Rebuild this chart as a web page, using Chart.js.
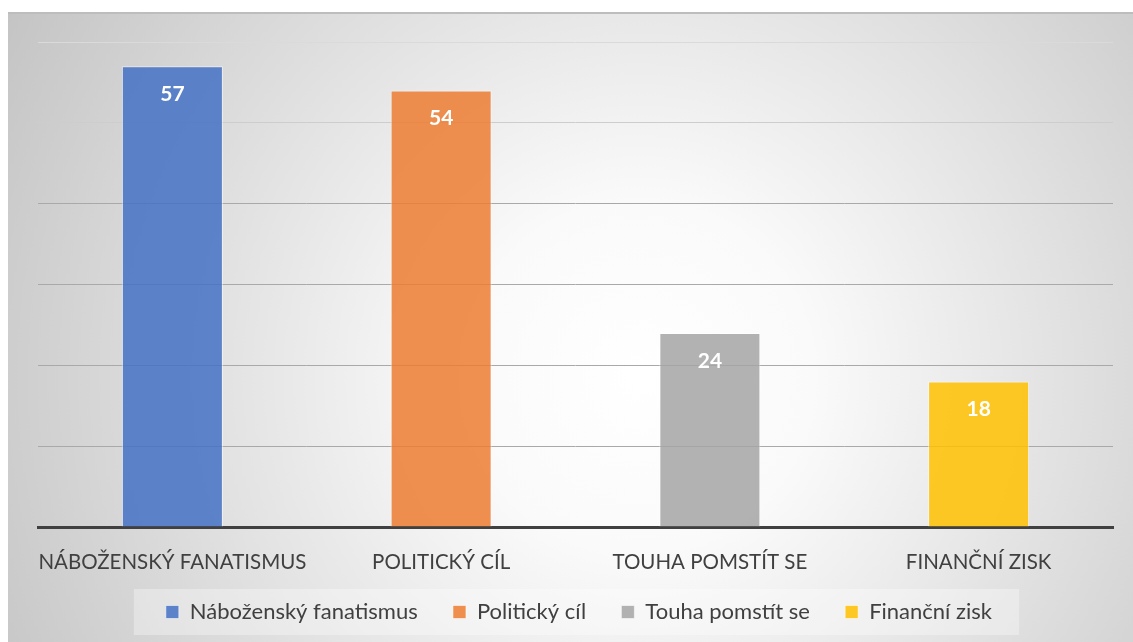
<!DOCTYPE html>
<html>
<head>
<meta charset="utf-8">
<script src="https://cdn.jsdelivr.net/npm/chart.js@4"></script>
<style>
  html, body { margin: 0; padding: 0; background: #fff; }
  #wrap {
    position: absolute; left: 8px; top: 12px; width: 1125px; height: 630px;
    background: radial-gradient(circle farthest-corner at 56% 58%, #ffffff 0%, #fafafa 24%, #c4c4c4 100%);
    box-shadow: inset 0 2px 0 #bdbdbd;
  }
</style>
</head>
<body>
<div id="wrap"><canvas id="chart1" width="1125" height="630"></canvas></div>
<script>
// values
var categories = ["Náboženský fanatismus", "Politický cíl", "Touha pomstít se", "Finanční zisk"];
var axisLabels = ["NÁBOŽENSKÝ FANATISMUS", "POLITICKÝ CÍL", "TOUHA POMSTÍT SE", "FINANČNÍ ZISK"];
var values = [57, 54, 24, 18];
var colors = ["rgba(68,114,196,0.85)", "rgba(237,125,49,0.85)", "rgba(165,165,165,0.85)", "rgba(255,192,0,0.85)"];
var yTicks = [0, 10, 20, 30, 40, 50, 60];

var FONT = "Lato, 'Open Sans', sans-serif";

// one dataset per category so every bar gets its own legend entry
var datasets = categories.map(function (name, i) {
    return {
        label: name,
        data: values.map(function (v, j) { return j === i ? v : null; }),
        backgroundColor: colors[i],
        borderColor: "rgba(255,255,255,0.55)",
        borderWidth: 1
    };
});

// white value labels just inside the top of each bar
var barLabels = {
    id: "barLabels",
    afterDatasetsDraw: function (chart) {
        var ctx = chart.ctx;
        ctx.save();
        ctx.fillStyle = "#ffffff";
        ctx.font = "bold 21px " + FONT;
        ctx.textAlign = "center";
        ctx.textBaseline = "middle";
        chart.data.datasets.forEach(function (ds, i) {
            chart.getDatasetMeta(i).data.forEach(function (bar, j) {
                if (ds.data[j] == null) return;
                ctx.fillText(ds.data[j], bar.x, bar.y + 28);
            });
        });
        ctx.restore();
    }
};

// faint panel behind the legend row
var legendPanel = {
    id: "legendPanel",
    beforeDraw: function (chart) {
        var boxes = chart.legend && chart.legend.legendHitBoxes;
        if (!boxes || !boxes.length) return;
        var first = boxes[0], last = boxes[boxes.length - 1];
        var cy = first.top + first.height / 2;
        var ctx = chart.ctx;
        ctx.save();
        ctx.fillStyle = "rgba(255,255,255,0.32)";
        var x0 = first.left - 32, x1 = last.left + last.width + 16;
        ctx.fillRect(x0, cy - 23, x1 - x0, 46);
        ctx.restore();
    }
};

new Chart(document.getElementById("chart1"), {
    type: "bar",
    data: { labels: axisLabels, datasets: datasets },
    options: {
        responsive: false,
        animation: false,
        layout: { padding: { top: 30, left: 28, right: 0, bottom: 9 } },
        datasets: { bar: { grouped: false, categoryPercentage: 1, barPercentage: 0.376 } },
        scales: {
            x: {
                grid: { display: false, drawTicks: false },
                border: { display: true, color: "#404040", width: 3 },
                ticks: {
                    color: "#404040", padding: 23, autoSkip: false, minRotation: 0, maxRotation: 0,
                    font: { family: FONT, size: 20.5 }
                },
                afterFit: function (s) { s.height = 50; }
            },
            y: {
                min: 0, max: 60,
                afterBuildTicks: function (s) { s.ticks = yTicks.map(function (v) { return { value: v }; }); },
                afterFit: function (s) { s.width = 2; },
                ticks: { display: false },
                border: { display: false },
                grid: {
                    drawTicks: false,
                    lineWidth: 1,
                    color: function (c) {
                        var v = c.tick && c.tick.value;
                        if (v === 0) return "rgba(0,0,0,0)";
                        if (v === 60) return "#dadada";
                        if (v === 50) return "#cdcdcd";
                        return "#a9a9a9";
                    }
                }
            },
            y2: {
                position: "right",
                display: true,
                grid: { display: false, drawTicks: false },
                border: { display: false },
                ticks: { display: false },
                afterFit: function (s) { s.width = 20; }
            }
        },
        plugins: {
            tooltip: { enabled: false },
            legend: {
                position: "bottom",
                labels: {
                    color: "#404040",
                    boxWidth: 13,
                    boxHeight: 13,
                    padding: 24,
                    font: { family: FONT, size: 22 },
                    // two trailing spaces widen the gap between entries
                    generateLabels: function (chart) {
                        return Chart.defaults.plugins.legend.labels.generateLabels(chart).map(function (item) {
                            item.text = item.text + "  ";
                            return item;
                        });
                    }
                }
            }
        }
    },
    plugins: [legendPanel, barLabels]
});
</script>
</body>
</html>
